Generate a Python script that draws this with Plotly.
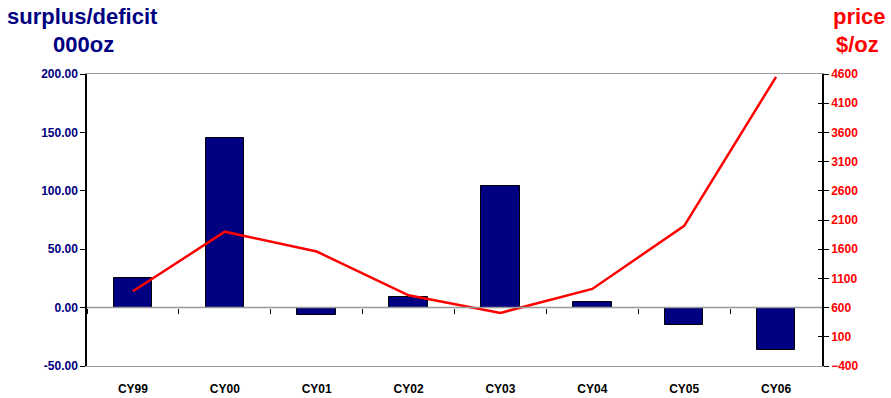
import plotly.graph_objects as go

categories = ["CY99", "CY00", "CY01", "CY02", "CY03", "CY04", "CY05", "CY06"]
surplus = [25, 145, -6, 9, 104, 5, -15, -36]
price = [880, 1900, 1560, 810, 510, 920, 2000, 4550]
left_ticks = [-50, 0, 50, 100, 150, 200]
right_ticks = [-400, 100, 600, 1100, 1600, 2100, 2600, 3100, 3600, 4100, 4600]

xs = list(range(len(categories)))
FONT = "Liberation Sans, Arial, sans-serif"
NAVY = "#000080"
RED = "#FF0000"

fig = go.Figure()
fig.add_trace(go.Bar(x=xs, y=surplus, marker=dict(color=NAVY, line=dict(color="black", width=1)),
                     width=0.42, yaxis="y", xaxis="x"))
fig.add_trace(go.Scatter(x=xs, y=price, mode="lines", line=dict(color=RED, width=2.5),
                         yaxis="y2", xaxis="x"))
fig.add_trace(go.Scatter(x=[None], y=[None], xaxis="x2", yaxis="y", showlegend=False, hoverinfo="skip"))
fig.add_trace(go.Scatter(x=[None], y=[None], xaxis="x", yaxis="y3", showlegend=False, hoverinfo="skip"))

fig.update_layout(
    width=891, height=398,
    margin=dict(l=87, r=69, t=74, b=32, autoexpand=False),
    plot_bgcolor="white", paper_bgcolor="white",
    showlegend=False,
    bargap=0,
    xaxis=dict(range=[-0.5, 7.5], tickvals=xs, ticktext=categories, ticks="", automargin=False,
               showgrid=False, zeroline=False, showline=True, linecolor="#999999", linewidth=1,
               mirror=True,
               tickfont=dict(family=FONT, size=12, color="black", weight="bold"), ticklabelstandoff=12),
    xaxis2=dict(range=[-0.5, 7.5], overlaying="x", anchor="free", position=0.2, automargin=False,
                tickvals=[i + 0.5 for i in range(-1, 8)], showticklabels=False,
                ticks="outside", ticklen=5, tickcolor="black", showgrid=False, zeroline=False,
                showline=False),
    yaxis=dict(range=[-50, 200], tickvals=left_ticks, ticktext=[f"{v:.2f}" for v in left_ticks],
               showgrid=False, zeroline=False, showline=True, linecolor="black", linewidth=1.5,
               ticks="outside", ticklen=5, tickcolor="black", automargin=False,
               tickfont=dict(family=FONT, size=12, color=NAVY, weight="bold")),
    yaxis2=dict(range=[-400, 4600], tickvals=right_ticks, overlaying="y", side="right",
                showgrid=False, zeroline=False, showline=True, linecolor="black", linewidth=1.5,
                ticks="outside", ticklen=5, tickcolor="black", automargin=False,
                tickfont=dict(family=FONT, size=12, color=RED, weight="bold")),
    yaxis3=dict(range=[-400, 4600], tickvals=right_ticks, overlaying="y", side="right",
                showgrid=False, zeroline=False, showline=False, showticklabels=False,
                ticks="inside", ticklen=4, tickcolor="black", automargin=False),
)

fig.add_shape(type="line", xref="paper", yref="y", x0=0, x1=1, y0=0, y1=0,
              line=dict(color="#999999", width=1.5), layer="above")

anns = [
    dict(text="surplus/deficit", x=82, y=16, color=NAVY),
    dict(text="000oz", x=83, y=45, color=NAVY),
    dict(text="price", x=859, y=16, color=RED),
    dict(text="$/oz", x=858, y=45, color=RED),
]
for a in anns:
    fig.add_annotation(text=a["text"], x=(a["x"] - 87) / (891 - 87 - 69), y=1 + (74 - a["y"]) / (398 - 74 - 32),
                       xref="paper", yref="paper", showarrow=False, xanchor="center", yanchor="middle",
                       font=dict(family=FONT, size=22, color=a["color"], weight="bold"))

fig.write_html("out.html")
